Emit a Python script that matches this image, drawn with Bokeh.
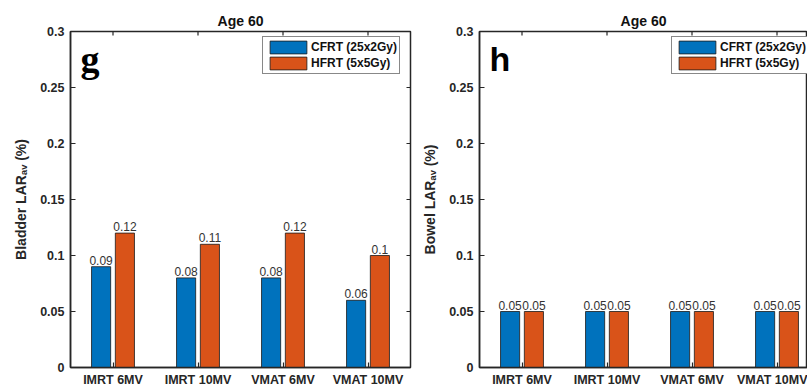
import numpy as np
from bokeh.plotting import figure
from bokeh.models import (ColumnDataSource, FixedTicker, NumeralTickFormatter,
                          Range1d, Label, Legend, LegendItem)
from bokeh.core.properties import value
from bokeh.transform import dodge
from bokeh.layouts import row
from bokeh.embed import file_html
from bokeh.resources import INLINE

# ---- data ----
categories = ["IMRT 6MV", "IMRT 10MV", "VMAT 6MV", "VMAT 10MV"]
bladder_cfrt = [0.09, 0.08, 0.08, 0.06]
bladder_hfrt = [0.12, 0.11, 0.12, 0.10]
bowel_cfrt = [0.05, 0.05, 0.05, 0.05]
bowel_hfrt = [0.05, 0.05, 0.05, 0.05]
series_names = ["CFRT (25x2Gy)", "HFRT (5x5Gy)"]
y_ticks = [0, 0.05, 0.1, 0.15, 0.2, 0.25, 0.3]
panel_title = "Age 60"

# ---- styles ----
COLORS = ["#0072BD", "#D95319"]
DARK = "#262626"
FONT = "Liberation Sans"
H = 389
TOP = 31
BOTTOM = 20
FRAME_H = H - TOP - BOTTOM
PX_PER_UNIT = 85.0
Y_MAX = 0.3
PX_PER_Y = FRAME_H / Y_MAX


def style_axis(ax, ticker):
    ax.ticker = ticker
    ax.axis_line_color = DARK
    ax.axis_line_width = 1.5
    ax.major_tick_line_color = DARK
    ax.major_tick_line_width = 1.2
    ax.major_tick_in = 5
    ax.major_tick_out = 0
    ax.minor_tick_line_color = None
    ax.major_label_text_font = FONT
    ax.major_label_text_font_style = "bold"
    ax.major_label_text_color = DARK
    ax.major_label_text_font_size = "12.5px"


def make_panel(cfrt, hfrt, ylabel, letter, letter_font, letter_size,
               width, mb_left, mb_right, x_end, right_ticks):
    xs = list(range(1, len(categories) + 1))
    src = ColumnDataSource(dict(
        x=xs, cfrt=cfrt, hfrt=hfrt,
        cfrt_lab=[f"{v:g}" for v in cfrt],
        hfrt_lab=[f"{v:g}" for v in hfrt],
    ))
    p = figure(width=width, height=H, output_backend="svg", toolbar_location=None,
               x_range=Range1d(0.5, x_end), y_range=Range1d(0, Y_MAX),
               min_border_left=mb_left, min_border_right=mb_right,
               min_border_top=TOP, min_border_bottom=BOTTOM,
               title=panel_title)
    p.outline_line_color = DARK
    p.outline_line_width = 1.5
    p.grid.grid_line_color = None
    p.background_fill_color = "white"
    p.border_fill_color = "white"
    p.title.align = "center"
    p.title.text_font = FONT
    p.title.text_font_style = "bold"
    p.title.text_font_size = "14px"
    p.title.text_color = "#111111"
    p.title.standoff = 5

    style_axis(p.xaxis[0], FixedTicker(ticks=xs))
    p.xaxis[0].major_label_overrides = {x: c for x, c in zip(xs, categories)}
    p.xaxis[0].major_label_standoff = 5
    style_axis(p.yaxis[0], FixedTicker(ticks=y_ticks))
    p.yaxis[0].major_label_standoff = 6
    p.yaxis[0].formatter = NumeralTickFormatter(format="0.[00]")
    p.yaxis[0].axis_label = ylabel
    p.yaxis[0].axis_label_text_font = FONT
    p.yaxis[0].axis_label_text_font_style = "bold"
    p.yaxis[0].axis_label_text_font_size = "14px"
    p.yaxis[0].axis_label_text_color = DARK
    p.yaxis[0].axis_label_standoff = 8

    # inward ticks on the top edge (and right edge) of the box
    tick_y = 4.0 / PX_PER_Y
    tick_x = 4.0 / PX_PER_UNIT
    p.segment(x0=xs, x1=xs, y0=[Y_MAX] * len(xs), y1=[Y_MAX - tick_y] * len(xs),
              line_color=DARK, line_width=1.2)
    if right_ticks:
        p.segment(x0=[x_end] * len(y_ticks), x1=[x_end - tick_x] * len(y_ticks),
                  y0=y_ticks, y1=y_ticks, line_color=DARK, line_width=1.2)

    off = 0.14
    bw = 0.225
    r1 = p.vbar(x=dodge("x", -off, range=p.x_range), top="cfrt", width=bw, source=src,
                fill_color=COLORS[0], line_color="#1a1a1a", line_width=0.8)
    r2 = p.vbar(x=dodge("x", off, range=p.x_range), top="hfrt", width=bw, source=src,
                fill_color=COLORS[1], line_color="#1a1a1a", line_width=0.8)
    for key, o in (("cfrt", -off), ("hfrt", off)):
        p.text(x=dodge("x", o, range=p.x_range), y=key, text=key + "_lab", source=src,
               text_font=value(FONT), text_font_size="12px", text_color="#333333",
               text_align="center", text_baseline="bottom", y_offset=-2)

    legend = Legend(items=[LegendItem(label=series_names[0], renderers=[r1]),
                           LegendItem(label=series_names[1], renderers=[r2])],
                    location=(192, FRAME_H - 9 - 36))
    legend.label_text_font = FONT
    legend.label_text_font_style = "bold"
    legend.label_text_font_size = "12px"
    legend.label_text_color = "#111111"
    legend.label_height = 16
    legend.glyph_height = 16
    legend.glyph_width = 46
    legend.spacing = 0
    legend.padding = 2
    legend.margin = 0
    legend.label_standoff = 0
    legend.border_line_color = "#111111"
    legend.border_line_width = 1
    legend.background_fill_color = "white"
    legend.background_fill_alpha = 1
    p.add_layout(legend)

    yl = Y_MAX * (310.0 / 338.0)
    p.add_layout(Label(x=0.5 + 10 / PX_PER_UNIT, y=yl, text=letter, text_font=letter_font,
                       text_font_style="bold", text_font_size=letter_size,
                       text_color="black", text_baseline="alphabetic"))
    return p


LEFT_W = 418
left = make_panel(bladder_cfrt, bladder_hfrt, "Bladder LAR\u2090\u1d65 (%)", "g",
                  "Liberation Serif", "38px", LEFT_W, 70, 8, 4.5, True)
right_w = 807 - LEFT_W
right_frame = right_w - 61
right = make_panel(bowel_cfrt, bowel_hfrt, "Bowel LAR\u2090\u1d65 (%)", "h", FONT, "34px",
                   right_w, 61, 0, 0.5 + right_frame / PX_PER_UNIT, False)

layout = row(left, right)
open("out.html", "w").write(file_html(layout, INLINE))
